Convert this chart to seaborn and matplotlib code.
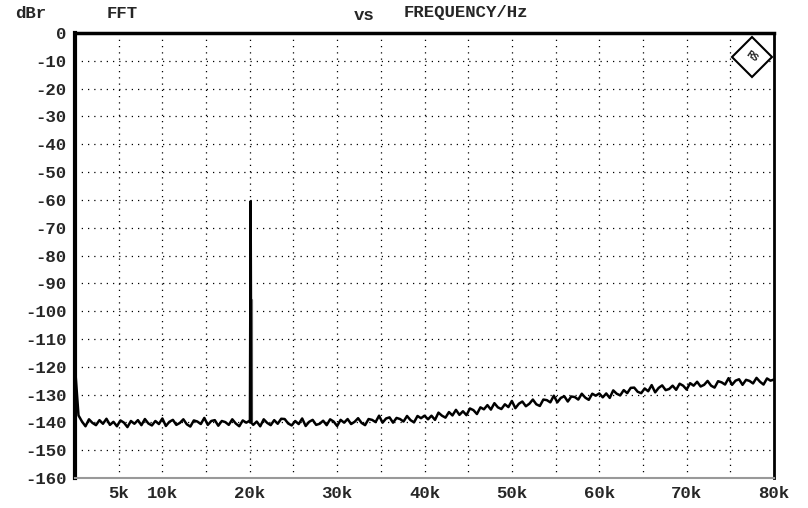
import numpy as np
import pandas as pd
import matplotlib
matplotlib.use("Agg")
import matplotlib.pyplot as plt
import seaborn as sns

# ---- data (frequency in kHz, level in dBr) ----
noise_freq_khz = [round(i * 0.4, 1) for i in range(201)]
noise_db = [
    -120.0, -137.5, -139.7, -141.4, -138.9, -140.2, -141.0, -139.2, -140.5, -138.7,
    -140.9, -139.8, -141.4, -139.3, -140.1, -141.7, -139.5, -140.5, -139.2, -141.0,
    -138.8, -140.4, -141.1, -139.5, -140.6, -138.6, -141.3, -139.8, -139.1, -140.9,
    -140.2, -138.9, -140.7, -141.5, -139.3, -139.7, -140.6, -138.4, -140.9, -139.5,
    -139.2, -141.2, -139.5, -139.9, -140.9, -138.9, -140.4, -141.4, -139.3, -140.1,
    -139.4, -140.9, -139.7, -141.4, -138.9, -140.2, -141.0, -139.2, -140.5, -138.7,
    -138.8, -140.4, -141.1, -139.5, -140.6, -138.6, -141.3, -139.8, -139.1, -140.9,
    -140.5, -139.4, -141.0, -138.9, -139.7, -141.3, -139.1, -140.1, -138.8, -140.6,
    -139.8, -138.5, -140.2, -141.0, -138.8, -139.1, -139.9, -137.6, -140.1, -138.6,
    -138.2, -140.1, -138.4, -138.8, -139.7, -137.7, -139.2, -140.0, -137.7, -138.5,
    -137.6, -138.9, -137.6, -139.1, -136.5, -137.6, -138.3, -136.3, -137.5, -135.5,
    -137.3, -136.0, -137.4, -135.0, -135.6, -137.0, -134.6, -135.3, -133.8, -135.4,
    -133.1, -134.6, -135.2, -133.5, -134.5, -132.3, -134.9, -133.3, -132.5, -134.2,
    -133.3, -131.8, -133.5, -134.1, -131.8, -132.0, -132.8, -130.4, -132.8, -131.2,
    -130.6, -132.5, -130.7, -130.9, -131.8, -129.7, -131.1, -131.9, -129.7, -130.4,
    -129.6, -131.0, -129.6, -131.2, -128.5, -129.7, -130.3, -128.4, -129.5, -127.6,
    -127.5, -129.0, -129.5, -127.8, -128.8, -126.6, -129.2, -127.6, -126.7, -128.4,
    -128.0, -126.8, -128.3, -126.1, -126.8, -128.2, -125.9, -126.8, -125.4, -127.1,
    -126.5, -125.1, -126.8, -127.5, -125.2, -125.6, -126.4, -124.1, -126.5, -125.0,
    -124.5, -126.5, -124.7, -125.1, -126.0, -124.0, -125.4, -126.4, -124.2, -125.0,
    -124.6,
]
spike_freq_khz = [20.02, 20.1, 20.18]
spike_db = [-140.0, -60.5, -140.0]
gray_freq_khz = [20.3, 20.3]
gray_db = [-140.0, -96.0]

x_tick_vals = [5, 10, 20, 30, 40, 50, 60, 70, 80]
x_tick_labels = ["5k", "10k", "20k", "30k", "40k", "50k", "60k", "70k", "80k"]
y_tick_vals = list(range(0, -161, -10))
y_tick_labels = [str(v) for v in y_tick_vals]

# ---- styling ----
sns.set_style("white")
mono = ["Liberation Mono", "DejaVu Sans Mono"]
plt.rcParams["font.family"] = mono
plt.rcParams["font.weight"] = "bold"
FS = 12.5

fig = plt.figure(figsize=(8.08, 5.08), dpi=100)
ax = fig.add_axes([75 / 808, 30 / 508, (774 - 75) / 808, (478 - 33) / 508])

df_noise = pd.DataFrame({"f": noise_freq_khz, "db": noise_db})
df_spike = pd.DataFrame({"f": spike_freq_khz, "db": spike_db})
df_gray = pd.DataFrame({"f": gray_freq_khz, "db": gray_db})

sns.lineplot(data=df_noise, x="f", y="db", ax=ax, color="black", lw=1.8,
             sort=False, estimator=None)
sns.lineplot(data=df_gray, x="f", y="db", ax=ax, color="#8a8a8a", lw=1.6,
             sort=False, estimator=None)
sns.lineplot(data=df_spike, x="f", y="db", ax=ax, color="black", lw=1.8,
             sort=False, estimator=None)

ax.set_xlim(0, 80)
ax.set_ylim(-160, 0)

# grid: vertical every 5k, horizontal every 10 dB
for xv in range(5, 80, 5):
    ax.axvline(xv, color="black", lw=0.9, ls=(0, (1, 4)), zorder=0)
for yv in range(-150, 0, 10):
    ax.axhline(yv, color="black", lw=0.9, ls=(0, (1, 4)), zorder=0)

ax.set_xticks(x_tick_vals)
ax.set_xticklabels(x_tick_labels, fontsize=FS, fontweight="bold")
ax.set_yticks(y_tick_vals)
ax.set_yticklabels(y_tick_labels, fontsize=FS, fontweight="bold")
ax.tick_params(axis="both", length=0, pad=6)
ax.set_xlabel("")
ax.set_ylabel("")

for side, lw, col in [("left", 3.0, "black"), ("top", 2.5, "black"),
                      ("right", 2.0, "black"), ("bottom", 1.5, "#999999")]:
    ax.spines[side].set_visible(True)
    ax.spines[side].set_linewidth(lw)
    ax.spines[side].set_color(col)

# header texts
fig.text(15 / 808, 1 - 13 / 508, "dBr", fontsize=FS, fontweight="bold", va="center")
fig.text(107 / 808, 1 - 13 / 508, "FFT", fontsize=FS, fontweight="bold", va="center")
fig.text(354 / 808, 1 - 15 / 508, "vs", fontsize=FS, fontweight="bold", va="center")
fig.text(404 / 808, 1 - 13 / 508, "FREQUENCY/Hz", fontsize=FS, fontweight="bold", va="center")

# logo diamond
ax.plot([0.968], [0.947], marker="D", ms=20, mfc="white", mec="black", mew=1.5,
        transform=ax.transAxes, clip_on=False)
ax.text(0.968, 0.947, "RS", transform=ax.transAxes, fontsize=7.5, ha="center",
        va="center", rotation=-35, fontweight="bold")

fig.savefig("out.png", dpi=100)
